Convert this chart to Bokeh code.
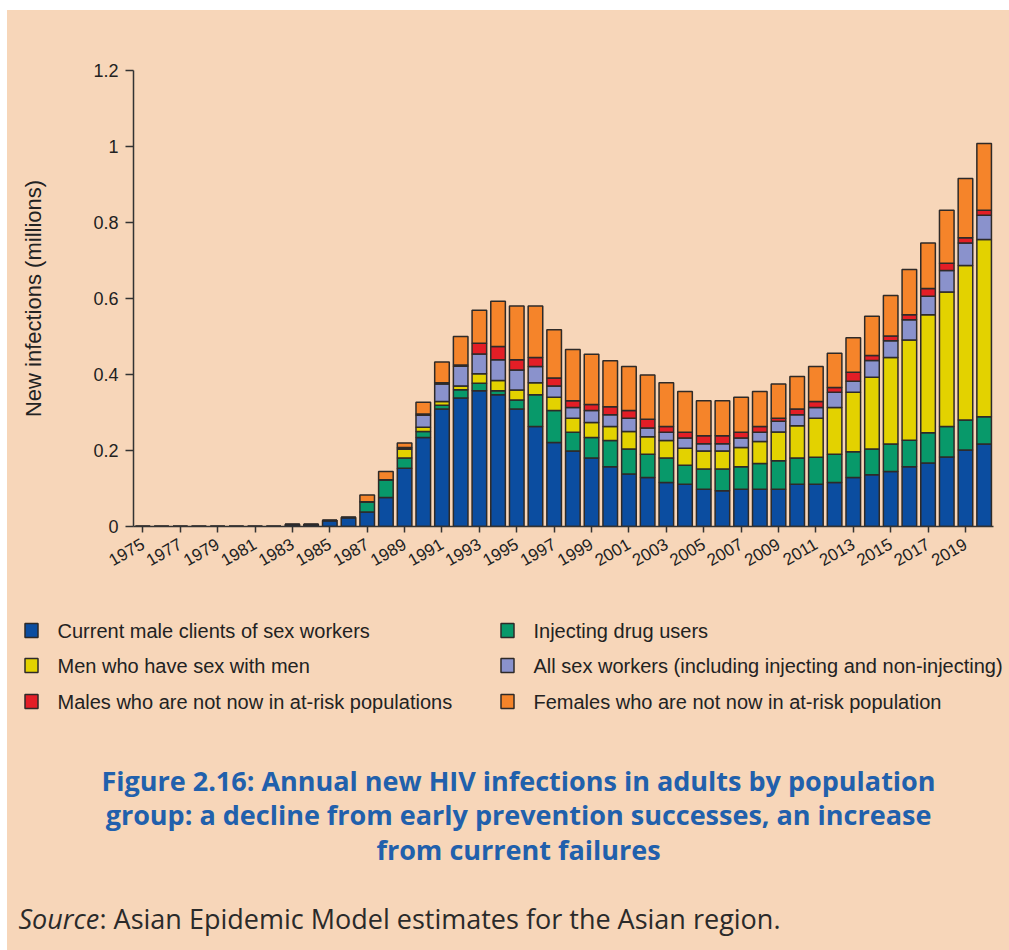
import math
from bokeh.plotting import figure
from bokeh.models import Range1d, FixedTicker, ColumnDataSource
from bokeh.layouts import column
from bokeh.core.properties import value
from bokeh.embed import file_html
from bokeh.resources import INLINE

# ---------------- data ----------------
years = list(range(1975, 2021))

clients = [0, 0, 0, 0, 0, 0, 0, 0, 0.005, 0.005, 0.016, 0.024, 0.038, 0.076, 0.153, 0.234,
           0.309, 0.338, 0.357, 0.347, 0.309, 0.263, 0.221, 0.199, 0.180, 0.157, 0.138, 0.129,
           0.116, 0.111, 0.098, 0.094, 0.098, 0.098, 0.098, 0.111, 0.111, 0.116, 0.129, 0.136,
           0.145, 0.157, 0.167, 0.183, 0.201, 0.217]
idu = [0, 0, 0, 0, 0, 0, 0, 0, 0, 0, 0, 0, 0.027, 0.047, 0.027, 0.016,
       0.010, 0.022, 0.020, 0.010, 0.024, 0.084, 0.084, 0.049, 0.054, 0.069, 0.066, 0.061,
       0.064, 0.050, 0.053, 0.057, 0.059, 0.068, 0.075, 0.069, 0.071, 0.074, 0.068, 0.068,
       0.072, 0.070, 0.080, 0.080, 0.079, 0.072]
msm = [0, 0, 0, 0, 0, 0, 0, 0, 0, 0, 0, 0, 0, 0, 0.024, 0.011,
       0.010, 0.010, 0.025, 0.027, 0.026, 0.031, 0.035, 0.037, 0.040, 0.037, 0.046, 0.046,
       0.046, 0.045, 0.048, 0.048, 0.051, 0.058, 0.076, 0.085, 0.103, 0.123, 0.156, 0.189,
       0.228, 0.264, 0.310, 0.354, 0.407, 0.466]
sex_workers = [0, 0, 0, 0, 0, 0, 0, 0, 0, 0, 0, 0, 0, 0, 0, 0.032,
               0.046, 0.052, 0.052, 0.055, 0.053, 0.043, 0.030, 0.028, 0.031, 0.031, 0.035, 0.023,
               0.022, 0.027, 0.019, 0.019, 0.025, 0.024, 0.028, 0.029, 0.028, 0.040, 0.029, 0.044,
               0.044, 0.053, 0.049, 0.057, 0.059, 0.064]
males_other = [0, 0, 0, 0, 0, 0, 0, 0, 0, 0, 0, 0, 0, 0, 0.004, 0.003,
               0.003, 0.003, 0.028, 0.035, 0.027, 0.024, 0.021, 0.018, 0.016, 0.021, 0.020, 0.023,
               0.015, 0.015, 0.021, 0.021, 0.015, 0.015, 0.008, 0.015, 0.016, 0.013, 0.024, 0.013,
               0.012, 0.013, 0.020, 0.019, 0.014, 0.013]
females_other = [0, 0, 0, 0, 0, 0, 0, 0, 0, 0, 0, 0, 0.018, 0.022, 0.012, 0.031,
                 0.055, 0.075, 0.087, 0.119, 0.141, 0.135, 0.127, 0.135, 0.132, 0.121, 0.116, 0.117,
                 0.115, 0.107, 0.092, 0.092, 0.092, 0.092, 0.090, 0.086, 0.092, 0.090, 0.091, 0.103,
                 0.107, 0.119, 0.120, 0.139, 0.156, 0.176]

series_keys = ["clients", "idu", "msm", "sw", "males", "females"]
series_names = [
    "Current male clients of sex workers",
    "Injecting drug users",
    "Men who have sex with men",
    "All sex workers (including injecting and non-injecting)",
    "Males who are not now in at-risk populations",
    "Females who are not now in at-risk population",
]
colors = ["#0B4DA0", "#08996A", "#E3D200", "#8A92CC", "#E31E26", "#F5842A"]

x_ticks = [1975, 1977, 1979, 1981, 1983, 1985, 1987, 1989, 1991, 1993, 1995, 1997, 1999,
           2001, 2003, 2005, 2007, 2009, 2011, 2013, 2015, 2017, 2019]
x_tick_labels = [str(t) for t in x_ticks]
y_ticks = [0, 0.2, 0.4, 0.6, 0.8, 1.0, 1.2]
y_tick_labels = ["0", "0.2", "0.4", "0.6", "0.8", "1", "1.2"]

title_lines = [
    "Figure 2.16: Annual new HIV infections in adults by population",
    "group: a decline from early prevention successes, an increase",
    "from current failures",
]
source_label = "Source"
source_text = ": Asian Epidemic Model estimates for the Asian region."

# ---------------- style ----------------
BG = "#F7D6B9"
OUTLINE = "#2E2A28"
TEXT = "#222222"
W = 1002
H1 = 590
H2 = 350

source = ColumnDataSource(dict(year=years, clients=clients, idu=idu, msm=msm,
                               sw=sex_workers, males=males_other, females=females_other))

p = figure(width=W, height=H1, x_range=Range1d(1974.5, 2020.5), y_range=Range1d(0, 1.2),
           output_backend="svg", toolbar_location=None,
           min_border_left=126, min_border_right=16, min_border_top=60, min_border_bottom=74,
           background_fill_color=None, border_fill_color=BG)
p.frame_align = False
p.outline_line_color = None
p.xgrid.visible = False
p.ygrid.visible = False

p.vbar_stack(series_keys, x="year", width=0.78, source=source,
             fill_color=colors, line_color=OUTLINE, line_width=1.5)

for ax in (p.xaxis[0], p.yaxis[0]):
    ax.axis_line_color = "#333333"
    ax.axis_line_width = 1.5
    ax.major_tick_line_color = "#333333"
    ax.major_tick_line_width = 1.5
    ax.minor_tick_line_color = None
    ax.major_tick_in = 0
    ax.major_label_text_color = TEXT
    ax.major_label_text_font = "Liberation Sans"

p.xaxis.ticker = FixedTicker(ticks=x_ticks)
p.xaxis.major_label_overrides = {t: l for t, l in zip(x_ticks, x_tick_labels)}
p.xaxis.major_label_orientation = math.pi / 6
p.xaxis.major_label_text_font_size = "17px"
p.xaxis.major_tick_out = 6
p.xaxis.major_label_standoff = 10

p.yaxis.ticker = FixedTicker(ticks=y_ticks)
p.yaxis.major_label_overrides = {t: l for t, l in zip(y_ticks, y_tick_labels)}
p.yaxis.major_label_text_font_size = "18px"
p.yaxis.major_tick_out = 8
p.yaxis.major_label_standoff = 7
p.yaxis.axis_label = "New infections (millions)"
p.yaxis.axis_label_text_font = "Liberation Sans"
p.yaxis.axis_label_text_font_style = "normal"
p.yaxis.axis_label_text_font_size = "22px"
p.yaxis.axis_label_text_color = TEXT
p.yaxis.axis_label_standoff = 44

# ---------------- lower panel: legend, title, source ----------------
q = figure(width=W, height=H2, x_range=Range1d(0, W), y_range=Range1d(H2, 0),
           output_backend="svg", toolbar_location=None,
           x_axis_location=None, y_axis_location=None,
           min_border=0, min_border_left=0, min_border_right=0,
           min_border_top=0, min_border_bottom=0,
           background_fill_color=None, border_fill_color=BG)
q.frame_align = False
q.outline_line_color = None
q.xgrid.visible = False
q.ygrid.visible = False

col_x = [24, 500]
text_dx = 26
row_y = [30, 65, 101]
sq_x, sq_y, lab_x, lab_y, lab_t, sq_c = [], [], [], [], [], []
for i, (name, c) in enumerate(zip(series_names, colors)):
    col = i % 2
    row = i // 2
    sq_x.append(col_x[col]); sq_y.append(row_y[row]); sq_c.append(c)
    lab_x.append(col_x[col] + text_dx); lab_y.append(row_y[row]); lab_t.append(name)
q.rect(x=sq_x, y=sq_y, width=13, height=14, fill_color=sq_c, line_color=OUTLINE, line_width=1.5)
q.text(x=lab_x, y=lab_y, text=lab_t, text_font=value("Liberation Sans"),
       text_font_size="20px", text_color=TEXT, text_baseline="middle", text_align="left")

q.text(x=[511] * 3, y=[180, 214, 249], text=title_lines,
       text_font=value("Open Sans"), text_font_style="bold", text_font_size="27px",
       text_color="#2160AC", text_baseline="middle", text_align="center")

q.text(x=[11], y=[318], text=[source_label], text_font=value("Open Sans"),
       text_font_style="italic", text_font_size="27px", text_color="#2A2A2A",
       text_baseline="middle", text_align="left")
q.text(x=[92], y=[318], text=[source_text], text_font=value("Open Sans"),
       text_font_size="27px", text_color="#2A2A2A",
       text_baseline="middle", text_align="left")

layout = column(p, q, spacing=0, margin=(10, 0, 0, 7), styles={"background-color": BG})
open("out.html", "w").write(file_html(layout, INLINE))
